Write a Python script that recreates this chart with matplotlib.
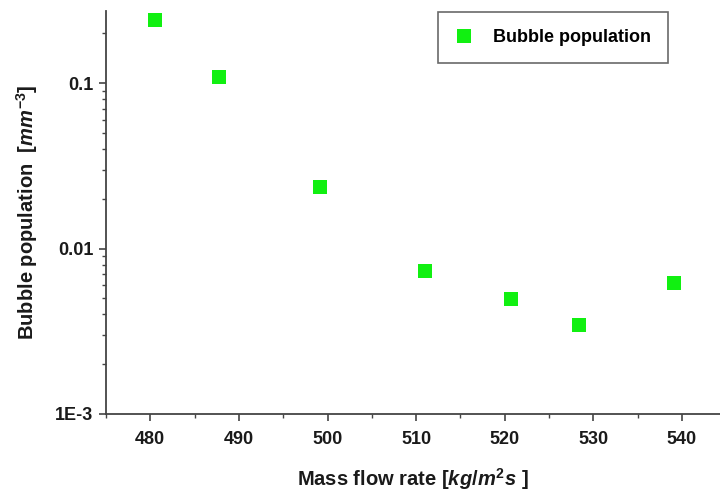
import numpy as np
import matplotlib
matplotlib.use("Agg")
import matplotlib.pyplot as plt
from matplotlib.ticker import FixedLocator, FuncFormatter, LogLocator, NullFormatter, MultipleLocator

plt.rcParams['font.family'] = ['Liberation Sans', 'DejaVu Sans']
plt.rcParams['mathtext.fontset'] = 'custom'
plt.rcParams['mathtext.rm'] = 'Liberation Sans:bold'
plt.rcParams['mathtext.it'] = 'Liberation Sans:bold:italic'
plt.rcParams['mathtext.bf'] = 'Liberation Sans:bold'

# data
mass_flow = [480.5, 487.7, 499.1, 511.0, 520.7, 528.4, 539.1]
bubble_pop = [0.241, 0.109, 0.0236, 0.0073, 0.00493, 0.00347, 0.00616]
y_ticks = [1e-3, 1e-2, 1e-1]
y_tick_labels = ['1E-3', '0.01', '0.1']

fig = plt.figure(figsize=(7.2, 4.96), dpi=100)
ax = fig.add_axes([106 / 720, 1 - 414 / 496, (720 - 106) / 720, (414 - 11) / 496])

ax.plot(mass_flow, bubble_pop, 's', color='#11f011', markersize=10,
        markeredgewidth=0, label='Bubble population')

ax.set_yscale('log')
ax.set_ylim(1e-3, 0.273)
ax.set_xlim(475, 544.3)

ax.xaxis.set_major_locator(MultipleLocator(10))
ax.xaxis.set_minor_locator(MultipleLocator(5))
ax.yaxis.set_major_locator(FixedLocator(y_ticks))
ax.yaxis.set_major_formatter(FuncFormatter(
    lambda v, p: dict(zip(y_ticks, y_tick_labels)).get(v, '')))
ax.yaxis.set_minor_locator(LogLocator(base=10, subs=np.arange(2, 10)))
ax.yaxis.set_minor_formatter(NullFormatter())

for side in ['top', 'right']:
    ax.spines[side].set_visible(False)
for side in ['left', 'bottom']:
    ax.spines[side].set_color('#444444')
    ax.spines[side].set_linewidth(1.3)

ax.tick_params(which='major', direction='out', length=5, width=1.2, color='#444444',
               labelsize=13, labelcolor='#1a1a1a', pad=4)
ax.tick_params(which='minor', direction='out', length=3, width=1.0, color='#444444')
for lbl in ax.get_xticklabels() + ax.get_yticklabels():
    lbl.set_fontweight('bold')
ax.tick_params(axis='x', pad=7)

ax.set_xlabel(r'Mass flow rate [$\mathit{kg/m}^{2}\mathit{s}$ ]', fontsize=14.5,
              fontweight='bold', color='#1a1a1a', labelpad=13)
ax.set_ylabel(r'Bubble population  [$\mathit{mm}^{-3}$]', fontsize=14.5,
              fontweight='bold', color='#1a1a1a', labelpad=11)

leg = ax.legend(loc='upper right', fontsize=13, frameon=True,
                fancybox=False, edgecolor='#444444', borderpad=0.95,
                borderaxespad=0, handletextpad=1.1, handlelength=1.0)
leg.get_frame().set_linewidth(1.2)
for t in leg.get_texts():
    t.set_fontweight('bold')
leg.set_bbox_to_anchor((668 / 720, 1 - 12 / 496), transform=fig.transFigure)

fig.savefig('out.png', dpi=100)
